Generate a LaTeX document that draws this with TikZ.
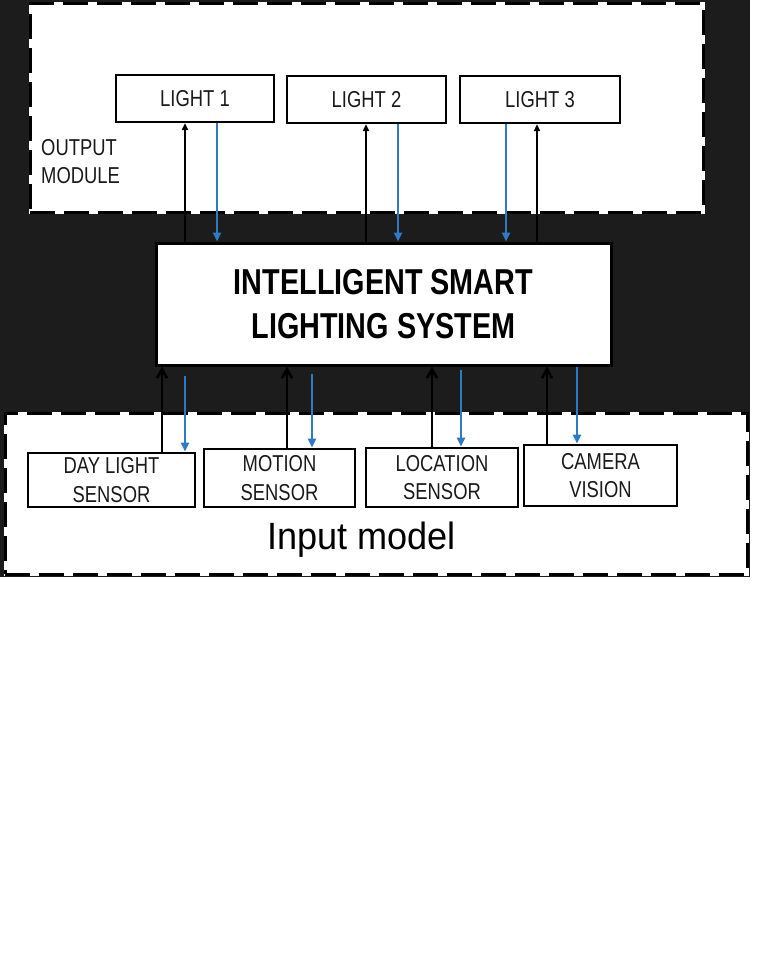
\documentclass[tikz,border=0pt]{standalone}
\usepackage{fontspec}
\usetikzlibrary{arrows.meta,calc}
\newfontfamily\cf[FakeStretch=0.8]{Liberation Sans}
\newfontfamily\cfw[FakeStretch=0.95]{Liberation Sans}
\definecolor{bgdark}{HTML}{1C1C1C}
\definecolor{arrowblue}{HTML}{2E7BC4}
\definecolor{labelink}{HTML}{1A1A1A}
\tikzset{
  container/.style={fill=white, draw=white, line width=3pt, inner sep=0pt,
    postaction={draw=black, line width=3pt, dash pattern=on 25pt off 9pt}},
  lightbox/.style={draw=black, fill=white, line width=2.2pt, inner sep=0pt,
    font=\cf\fontsize{23}{28}\selectfont, text=labelink, align=center},
  sensorbox/.style={draw=black, fill=white, line width=2.6pt, inner sep=0pt,
    font=\cf\fontsize{23}{28.5}\selectfont, text=labelink, align=center},
  corebox/.style={draw=black, fill=white, line width=3pt, inner sep=0pt,
    font=\cf\bfseries\fontsize{36}{44}\selectfont, text=black, align=center},
  upblack/.style={draw=black, line width=2pt, -{Triangle[width=6pt,length=7pt]}},
  upbarb/.style={draw=black, line width=2.6pt, -{Straight Barb[length=9pt,width=10pt]}},
  downblue/.style={draw=arrowblue, line width=2.6pt, -{Triangle[width=8pt,length=9pt]}},
}
\begin{document}
\begin{tikzpicture}[x=1pt,y=-1pt]
\useasboundingbox (0,0) rectangle (777,960);
\fill[white] (0,0) rectangle (777,960);
% dark backdrop
\fill[bgdark] (0,0) rectangle (750,577);

% containers
\node[container, minimum width=673pt, minimum height=208pt] (outmod) at (366.5,108) {};
\node[container, minimum width=742pt, minimum height=161pt] (inmod) at (376,493.5) {};

\node[anchor=west, align=left, font=\cf\fontsize{23}{28}\selectfont, text=labelink, inner sep=0pt]
  (outlabel) at (41,162) {OUTPUT\\MODULE};
\node[anchor=base, font=\cfw\fontsize{38}{44}\selectfont, text=black, inner sep=0pt]
  (inlabel) at (361.5,549) {Input model};

% lights
\node[lightbox, minimum width=158pt, minimum height=47pt] (l1) at (195,98.5) {LIGHT 1};
\node[lightbox, minimum width=159pt, minimum height=47pt] (l2) at (366.5,99.5) {LIGHT 2};
\node[lightbox, minimum width=160pt, minimum height=47pt] (l3) at (540,99.5) {LIGHT 3};

% core
\node[corebox, minimum width=455pt, minimum height=122pt] (core) at (383.5,304)
  {INTELLIGENT SMART\\LIGHTING SYSTEM};

% sensors
\node[sensorbox, minimum width=167pt, minimum height=54pt] (day) at (111.5,480) {DAY LIGHT\\SENSOR};
\node[sensorbox, minimum width=151pt, minimum height=58pt] (motion) at (279.5,478) {MOTION\\SENSOR};
\node[sensorbox, minimum width=152pt, minimum height=59pt] (loc) at (442,477.5) {LOCATION\\SENSOR};
\node[sensorbox, minimum width=153pt, minimum height=61pt] (cam) at (600.5,475.5) {CAMERA\\VISION};

% column coordinates
\coordinate (ka) at (185,0);  \coordinate (ba) at (217,0);
\coordinate (kb) at (366,0);  \coordinate (bb) at (398,0);
\coordinate (kc) at (537,0);  \coordinate (bc) at (506,0);
\coordinate (kd) at (162,0);  \coordinate (bd) at (185,0);
\coordinate (ke) at (287,0);  \coordinate (be) at (312,0);
\coordinate (kf) at (432,0);  \coordinate (bf) at (461,0);
\coordinate (kg) at (547,0);  \coordinate (bg) at (577,0);

% upper connectors
\draw[upblack] (core.north -| ka) -- (l1.south -| ka);
\draw[downblue] (l1.south -| ba) -- (core.north -| ba);
\draw[upblack] (core.north -| kb) -- (l2.south -| kb);
\draw[downblue] (l2.south -| bb) -- (core.north -| bb);
\draw[downblue] (l3.south -| bc) -- (core.north -| bc);
\draw[upblack] (core.north -| kc) -- (l3.south -| kc);

% lower connectors
\draw[upbarb] (day.north -| kd) -- (core.south -| kd);
\draw[downblue] ([yshift=-9pt]core.south -| bd) -- (day.north -| bd);
\draw[upbarb] (motion.north -| ke) -- (core.south -| ke);
\draw[downblue] ([yshift=-7pt]core.south -| be) -- (motion.north -| be);
\draw[upbarb] (loc.north -| kf) -- (core.south -| kf);
\draw[downblue] ([yshift=-3pt]core.south -| bf) -- (loc.north -| bf);
\draw[upbarb] (cam.north -| kg) -- (core.south -| kg);
\draw[downblue] (core.south -| bg) -- (cam.north -| bg);
\end{tikzpicture}
\end{document}
